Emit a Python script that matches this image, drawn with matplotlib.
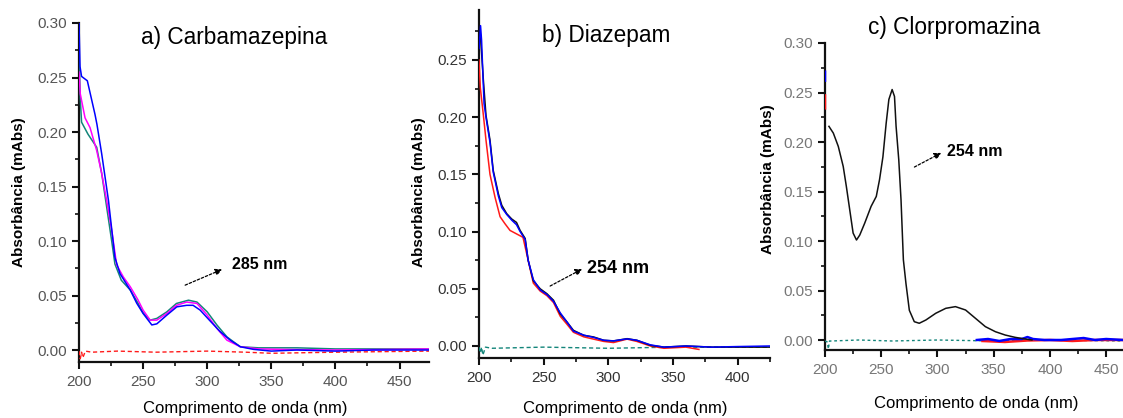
import numpy as np
import matplotlib
matplotlib.use("Agg")
import matplotlib.pyplot as plt
from matplotlib.ticker import MultipleLocator, FormatStrFormatter

plt.rcParams['font.family'] = ['Liberation Sans', 'DejaVu Sans']

# ---------------- data ----------------
# a) Carbamazepina
wl_a_blue = [200, 200.8, 202, 206.5, 212.5, 214, 217.7, 223, 228, 232, 240, 245, 250, 256.8, 260.7, 268.5,
             276.3, 284, 289, 294.5, 302, 310, 318, 325.8, 336, 350, 370, 400, 430, 473]
abs_a_blue = [0.30, 0.26, 0.251, 0.247, 0.216, 0.207, 0.18, 0.137, 0.085, 0.07, 0.055, 0.043, 0.0335, 0.023,
              0.024, 0.032, 0.0396, 0.041, 0.041, 0.0366, 0.027, 0.017, 0.009, 0.003, 0.0006, -0.001, 0.0,
              -0.001, 0.0, 0.0]
wl_a_mag = [200, 201, 202, 204.7, 208.6, 213.8, 217.7, 221.6, 225.5, 229.4, 234.6, 240, 246, 250, 255.5,
            260.7, 268.5, 276, 284, 292, 300, 307.6, 315.4, 325.8, 340, 360, 400, 440, 473]
abs_a_mag = [0.255, 0.235, 0.229, 0.213, 0.204, 0.183, 0.162, 0.137, 0.11, 0.078, 0.067, 0.058, 0.046, 0.0366,
             0.0274, 0.0274, 0.0335, 0.041, 0.044, 0.0427, 0.032, 0.0198, 0.009, 0.003, 0.001, 0.0005, 0.0,
             0.0005, 0.001]
wl_a_teal = [200, 201, 202, 207, 213.8, 217.7, 221.6, 225.5, 228, 233, 240, 246, 250, 255.5, 260.7, 268.5,
             276, 285.4, 292, 300, 307.6, 315.4, 325.8, 340, 370, 400, 473]
abs_a_teal = [0.27, 0.23, 0.209, 0.198, 0.186, 0.162, 0.131, 0.10, 0.079, 0.064, 0.055, 0.043, 0.034, 0.0274,
              0.029, 0.035, 0.0427, 0.0457, 0.044, 0.035, 0.0229, 0.012, 0.003, 0.002, 0.002, 0.001, 0.001]
wl_a_red = [200, 201, 202, 203, 205, 210, 230, 260, 300, 330, 350, 400, 473]
abs_a_red = [-0.001, -0.008, -0.002, -0.007, -0.001, -0.002, -0.001, -0.002, -0.001, -0.002, -0.003,
             -0.002, -0.001]

# b) Diazepam
wl_b_black = [200, 201, 203.4, 205.4, 208.5, 211, 215, 217.6, 221.4, 225.3, 229, 231.8, 235.7, 238, 242,
              247.3, 252.5, 257.6, 262.8, 268, 273, 281, 288.6, 296.4, 304, 314.5, 322, 332.5, 343, 360,
              380, 400, 425]
abs_b_black = [0.283, 0.273, 0.232, 0.2016, 0.18, 0.1535, 0.133, 0.123, 0.1157, 0.111, 0.108, 0.101, 0.094,
               0.075, 0.057, 0.05, 0.0457, 0.04, 0.028, 0.021, 0.0137, 0.0093, 0.0079, 0.005, 0.0044,
               0.0064, 0.005, 0.0006, -0.001, 0.0, -0.001, -0.001, -0.001]
wl_b_blue = [200, 201.2, 202, 203.9, 205.4, 208.5, 211, 215, 217.6, 221.4, 225.3, 229, 231.8, 235.7, 238,
             242, 247.3, 252.5, 257.6, 262.8, 268, 273, 281, 288.6, 296.4, 304, 314.5, 322, 332.5, 343,
             360, 380, 400, 425]
abs_b_blue = [0.26, 0.28, 0.267, 0.212, 0.2, 0.178, 0.152, 0.131, 0.121, 0.115, 0.110, 0.106, 0.100, 0.093,
              0.075, 0.058, 0.049, 0.045, 0.039, 0.029, 0.021, 0.013, 0.0095, 0.0075, 0.005, 0.0045,
              0.0062, 0.005, 0.001, -0.001, 0.0, -0.001, -0.0005, 0.0]
wl_b_red = [200, 201, 203.4, 205.4, 208.5, 212.4, 216.3, 220, 224, 229, 234, 238, 242, 247.3, 252.5, 257.6,
            262.8, 268, 273, 281, 288.6, 296.4, 304, 314.5, 322, 332.5, 343, 360, 370]
abs_b_red = [0.25, 0.226, 0.2016, 0.18, 0.15, 0.13, 0.113, 0.107, 0.101, 0.098, 0.095, 0.075, 0.055, 0.048,
             0.044, 0.038, 0.026, 0.019, 0.012, 0.008, 0.006, 0.004, 0.003, 0.006, 0.004, 0.0, -0.002,
             -0.001, -0.003]
wl_b_teal = [200, 201, 202, 203, 205, 210, 250, 300, 350, 400, 425]
abs_b_teal = [-0.001, -0.006, -0.001, -0.008, -0.001, -0.002, -0.001, -0.002, -0.001, -0.001, -0.001]

# c) Clorpromazina
wl_c_black = [203.5, 207.4, 211.8, 216.2, 219, 222, 225, 228, 230.9, 235.3, 241, 245.6, 248.5, 251.5, 254.4,
              256.8, 259.7, 261.8, 263.2, 265.6, 267.6, 269.7, 272, 275, 279.4, 283.8, 289.7, 298.5, 307.4,
              316, 325, 333.8, 342.6, 351.5, 360.3, 369, 378, 384]
abs_c_black = [0.2158, 0.209, 0.1956, 0.1753, 0.155, 0.1315, 0.108, 0.101, 0.106, 0.118, 0.135, 0.145, 0.162,
               0.185, 0.219, 0.243, 0.253, 0.246, 0.216, 0.182, 0.1416, 0.081, 0.057, 0.030, 0.0185, 0.0169,
               0.0202, 0.027, 0.032, 0.0337, 0.0303, 0.0219, 0.0135, 0.0084, 0.005, 0.0027, 0.001, 0.0]
wl_c_blue = [200, 200, np.nan, 335, 345, 355, 365, 375, 380, 385, 395, 410, 420, 430, 440, 450, 465]
abs_c_blue = [0.271, 0.262, np.nan, 0.0, 0.001, -0.001, 0.001, 0.001, 0.003, 0.001, 0.0, 0.0, 0.001, 0.002,
              0.0, 0.001, 0.0]
wl_c_red = [200, 200, np.nan, 340, 360, 380, 400, 420, 440, 465]
abs_c_red = [0.247, 0.234, np.nan, -0.001, -0.002, -0.0005, 0.0, -0.001, 0.0, 0.0]
wl_c_teal = [200, 202, 203, 204, 206, 230, 260, 300, 350, 400, 465]
abs_c_teal = [-0.001, -0.002, -0.009, -0.001, -0.001, 0.0, -0.001, 0.0, -0.001, 0.0, -0.001]

titles = ["a) Carbamazepina", "b) Diazepam", "c) Clorpromazina"]
peak_labels = ["285 nm", "254 nm", "254 nm"]
xlabel = "Comprimento de onda (nm)"
ylabel = "Absorbância (mAbs)"

BLUE, MAG, TEAL, RED, BLACK = '#0000ff', '#ff00ff', '#13857a', '#ff1a1a', '#111111'

fig = plt.figure(figsize=(11.23, 4.18), dpi=100)

rects = [
    [79 / 1123, (418 - 362) / 418, 350 / 1123, (362 - 23) / 418],
    [479 / 1123, (418 - 358) / 418, 291 / 1123, (358 - 10) / 418],
    [825 / 1123, (418 - 350) / 418, 298 / 1123, (350 - 43) / 418],
]
xlims = [(200, 473), (200, 425), (200, 465)]
ylims = [(-0.011, 0.30), (-0.0105, 0.2937), (-0.0101, 0.30)]
tick_colors = ['#555555', '#333333', '#777777']
title_pos = [(0.443, 0.956), (0.436, 0.928), (0.433, 1.049)]
xlabel_pos = [(0.474, -0.136), (0.502, -0.144), (0.507, -0.173)]
ylabel_pos = [(-0.171, 0.501), (-0.206, 0.477), (-0.191, 0.557)]
ann = [
    dict(xy=(311.7, 0.074), xytext=(282.8, 0.0595), txt=(319.5, 0.078), fs=11.5),
    dict(xy=(279.8, 0.0673), xytext=(255.0, 0.0524), txt=(283.7, 0.068), fs=13),
    dict(xy=(303.4, 0.189), xytext=(279.5, 0.1747), txt=(308.7, 0.19), fs=11.5),
]

axes = [fig.add_axes(r) for r in rects]
Z = 3

ax = axes[0]
ax.plot(wl_a_red, abs_a_red, color=RED, lw=1.0, dashes=(3, 2), zorder=Z)
ax.plot(wl_a_teal, abs_a_teal, color=TEAL, lw=1.1, zorder=Z)
ax.plot(wl_a_mag, abs_a_mag, color=MAG, lw=1.1, zorder=Z)
ax.plot(wl_a_blue, abs_a_blue, color=BLUE, lw=1.1, zorder=Z)

ax = axes[1]
ax.plot(wl_b_teal, abs_b_teal, color=TEAL, lw=1.0, dashes=(3, 2), zorder=Z)
ax.plot(wl_b_red, abs_b_red, color=RED, lw=1.1, zorder=Z)
ax.plot(wl_b_black, abs_b_black, color=BLACK, lw=1.1, zorder=Z)
ax.plot(wl_b_blue, abs_b_blue, color=BLUE, lw=1.1, zorder=Z)

ax = axes[2]
ax.plot(wl_c_teal, abs_c_teal, color=TEAL, lw=1.0, dashes=(2, 2), zorder=Z)
ax.plot(wl_c_red, abs_c_red, color=RED, lw=1.8, zorder=Z)
ax.plot(wl_c_blue, abs_c_blue, color=BLUE, lw=1.8, zorder=Z)
ax.plot(wl_c_black, abs_c_black, color=BLACK, lw=1.1, zorder=Z)

for i, ax in enumerate(axes):
    ax.set_xlim(*xlims[i])
    ax.set_ylim(*ylims[i])
    for s in ['top', 'right']:
        ax.spines[s].set_visible(False)
    for s in ['left', 'bottom']:
        ax.spines[s].set_linewidth(1.6)
        ax.spines[s].set_color('#111111')
    ax.xaxis.set_major_locator(MultipleLocator(50))
    ax.xaxis.set_minor_locator(MultipleLocator(25))
    ax.yaxis.set_major_locator(MultipleLocator(0.05))
    ax.yaxis.set_minor_locator(MultipleLocator(0.025))
    ax.yaxis.set_major_formatter(FormatStrFormatter('%.2f'))
    ax.tick_params(which='major', direction='out', length=5, width=1.5, labelsize=11,
                   labelcolor=tick_colors[i], color='#111111')
    ax.tick_params(which='minor', direction='out', length=3, width=1.2, color='#111111')
    ax.tick_params(axis='x', pad=4)
    ax.set_xlabel(xlabel, fontsize=12)
    ax.xaxis.label.set_va('center')
    ax.xaxis.set_label_coords(*xlabel_pos[i])
    ax.set_ylabel(ylabel, fontsize=11, fontweight='bold')
    ax.yaxis.label.set_va('center')
    ax.yaxis.set_label_coords(*ylabel_pos[i])
    ax.text(title_pos[i][0], title_pos[i][1], titles[i], transform=ax.transAxes,
            fontsize=16.3, ha='center', va='center', clip_on=False)
    a = ann[i]
    ax.annotate('', xy=a['xy'], xytext=a['xytext'],
                arrowprops=dict(arrowstyle='-|>', color='k', lw=0.9, linestyle=(0, (2, 1.5)),
                                mutation_scale=10, shrinkA=0, shrinkB=0))
    ax.text(a['txt'][0], a['txt'][1], peak_labels[i], fontsize=a['fs'], fontweight='bold',
            ha='left', va='center')

fig.savefig('out.png', dpi=100)
